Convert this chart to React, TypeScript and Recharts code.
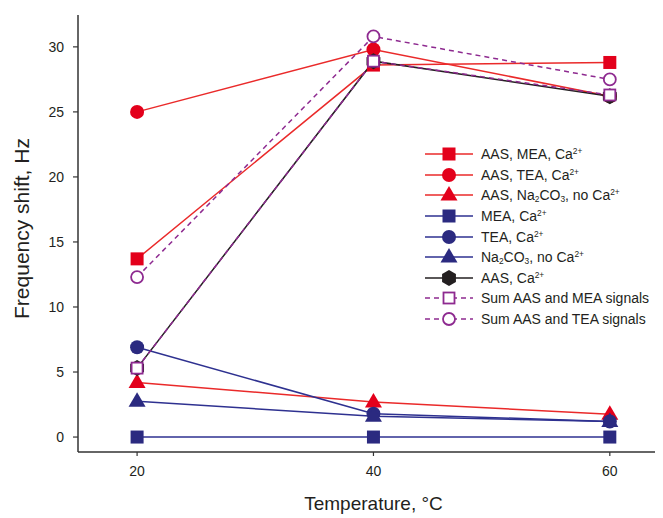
import React from "react";
import {
	LineChart,
	Line,
	XAxis,
	YAxis,
	Legend,
	Label,
} from "recharts";

const temperatures = [20, 40, 60];
const xTicks = [20, 40, 60];
const yTicks = [0, 5, 10, 15, 20, 25, 30];

// frequency shift, Hz
const aasMeaCa = [13.7, 28.6, 28.8];
const aasTeaCa = [25.0, 29.8, 26.2];
const aasNa2co3 = [4.2, 2.7, 1.75];
const meaCa = [0, 0, 0];
const teaCa = [6.9, 1.8, 1.2];
const na2co3 = [2.75, 1.6, 1.2];
const aasCa = [5.3, 28.9, 26.2];
const sumAasMea = [5.3, 28.9, 26.3];
const sumAasTea = [12.3, 30.8, 27.5];

const data = temperatures.map((t, i) => ({
	t,
	aasMeaCa: aasMeaCa[i],
	aasTeaCa: aasTeaCa[i],
	aasNa2co3: aasNa2co3[i],
	meaCa: meaCa[i],
	teaCa: teaCa[i],
	na2co3: na2co3[i],
	aasCa: aasCa[i],
	sumAasMea: sumAasMea[i],
	sumAasTea: sumAasTea[i],
}));

const RED = "#E3001B";
const RED_LINE = "#EA2A2A";
const NAVY = "#2B2A80";
const NAVY_LINE = "#2E3190";
const BLACK = "#231F20";
const PURPLE = "#8E2A90";
const FONT = "'Liberation Sans', Arial, sans-serif";

type Shape = "square" | "circle" | "triangle" | "hexagon" | "openSquare" | "openCircle";

const Ca = () => (
	<>
		Ca<sup style={{ fontSize: "0.6em", verticalAlign: "0.55em", lineHeight: 0 }}>2+</sup>
	</>
);
const Na2CO3 = () => (
	<>
		Na<sub style={{ fontSize: "0.6em", verticalAlign: "-0.2em", lineHeight: 0 }}>2</sub>CO
		<sub style={{ fontSize: "0.6em", verticalAlign: "-0.2em", lineHeight: 0 }}>3</sub>
	</>
);

const series: {
	key: string;
	label: React.ReactNode;
	marker: string;
	line: string;
	shape: Shape;
	dashed?: boolean;
}[] = [
	{ key: "aasMeaCa", label: <>AAS, MEA, <Ca /></>, marker: RED, line: RED_LINE, shape: "square" },
	{ key: "aasTeaCa", label: <>AAS, TEA, <Ca /></>, marker: RED, line: RED_LINE, shape: "circle" },
	{ key: "aasNa2co3", label: <>AAS, <Na2CO3 />, no <Ca /></>, marker: RED, line: RED_LINE, shape: "triangle" },
	{ key: "meaCa", label: <>MEA, <Ca /></>, marker: NAVY, line: NAVY_LINE, shape: "square" },
	{ key: "teaCa", label: <>TEA, <Ca /></>, marker: NAVY, line: NAVY_LINE, shape: "circle" },
	{ key: "na2co3", label: <><Na2CO3 />, no <Ca /></>, marker: NAVY, line: NAVY_LINE, shape: "triangle" },
	{ key: "aasCa", label: <>AAS, <Ca /></>, marker: BLACK, line: BLACK, shape: "hexagon" },
	{ key: "sumAasMea", label: <>Sum AAS and MEA signals</>, marker: PURPLE, line: PURPLE, shape: "openSquare", dashed: true },
	{ key: "sumAasTea", label: <>Sum AAS and TEA signals</>, marker: PURPLE, line: PURPLE, shape: "openCircle", dashed: true },
];

function Marker({ cx, cy, shape, color }: { cx: number; cy: number; shape: Shape; color: string }) {
	if (cx == null || cy == null) return null;
	switch (shape) {
		case "square":
			return <rect x={cx - 6.5} y={cy - 6.5} width={13} height={13} fill={color} />;
		case "circle":
			return <circle cx={cx} cy={cy} r={7} fill={color} />;
		case "triangle":
			return (
				<polygon
					points={`${cx},${cy - 9} ${cx - 8.5},${cy + 5.5} ${cx + 8.5},${cy + 5.5}`}
					fill={color}
				/>
			);
		case "hexagon": {
			const r = 8;
			const pts = [0, 1, 2, 3, 4, 5]
				.map((k) => {
					const a = (Math.PI / 3) * k - Math.PI / 2;
					return `${cx + r * Math.cos(a)},${cy + r * Math.sin(a)}`;
				})
				.join(" ");
			return <polygon points={pts} fill={color} />;
		}
		case "openSquare":
			return <rect x={cx - 5.5} y={cy - 5.5} width={11} height={11} fill="#fff" stroke={color} strokeWidth={1.8} />;
		case "openCircle":
			return <circle cx={cx} cy={cy} r={6} fill="#fff" stroke={color} strokeWidth={1.8} />;
	}
	return null;
}

function ChartLegend() {
	return (
		<div style={{ fontFamily: FONT, fontSize: 14, color: "#231F20" }}>
			{series.map((s) => (
				<div key={s.key} style={{ display: "flex", alignItems: "center", height: 20.6 }}>
					<svg width={48} height={20} style={{ flex: "none" }}>
						<line
							x1={0}
							x2={48}
							y1={10}
							y2={10}
							stroke={s.line}
							strokeWidth={1.5}
							strokeDasharray={s.dashed ? "5 4" : undefined}
						/>
						<Marker cx={24} cy={10} shape={s.shape} color={s.marker} />
					</svg>
					<span style={{ marginLeft: 8, whiteSpace: "nowrap" }}>{s.label}</span>
				</div>
			))}
		</div>
	);
}

export default function App() {
	return (
		<LineChart
			width={655}
			height={510}
			data={data}
			margin={{ top: 7, right: 0, bottom: 0, left: 0 }}
			style={{ fontFamily: FONT }}
		>
			<XAxis
				dataKey="t"
				type="number"
				domain={[15, 64.5]}
				ticks={xTicks}
				height={66}
				tickSize={4}
				tickMargin={10}
				tick={{ fontSize: 14, fill: "#231F20", fontFamily: FONT }}
				axisLine={{ stroke: "#333", strokeWidth: 1.5 }}
				tickLine={{ stroke: "#333", strokeWidth: 1.2 }}
				allowDataOverflow
			>
				<Label
					content={({ viewBox }: any) => (
						<text
							x={viewBox.x + viewBox.width / 2 + 3}
							y={viewBox.y + 51}
							textAnchor="middle"
							dominantBaseline="central"
							fontSize={19}
							fontFamily={FONT}
							fill="#231F20"
						>
							Temperature, °C
						</text>
					)}
				/>
			</XAxis>
			<XAxis
				xAxisId="top"
				orientation="top"
				dataKey="t"
				type="number"
				domain={[15, 64.5]}
				height={0}
				tick={false}
				tickLine={false}
				axisLine={{ stroke: "#333", strokeWidth: 1.5 }}
			/>
			<YAxis
				type="number"
				domain={[-1.15, 32.45]}
				ticks={yTicks}
				width={70}
				tickSize={5}
				tickMargin={9}
				tick={{ fontSize: 14, fill: "#231F20", fontFamily: FONT }}
				axisLine={{ stroke: "#333", strokeWidth: 1.5 }}
				tickLine={{ stroke: "#333", strokeWidth: 1.2 }}
				allowDataOverflow
			>
				<Label
					content={({ viewBox }: any) => {
						const x = viewBox.x + 13;
						const y = viewBox.y + viewBox.height / 2 - 5;
						return (
							<text
								x={x}
								y={y}
								transform={`rotate(-90 ${x} ${y})`}
								textAnchor="middle"
								dominantBaseline="central"
								fontSize={21}
								fontFamily={FONT}
								fill="#231F20"
							>
								Frequency shift, Hz
							</text>
						);
					}}
				/>
			</YAxis>
			<Legend
				layout="vertical"
				align="center"
				verticalAlign="middle"
				content={() => <ChartLegend />}
				wrapperStyle={{ left: 417, top: 136, width: 240 }}
			/>
			{series.map((s) => (
				<Line
					key={s.key}
					dataKey={s.key}
					type="linear"
					stroke={s.line}
					strokeWidth={1.5}
					strokeDasharray={s.dashed ? "5 4" : undefined}
					isAnimationActive={false}
					activeDot={false}
					dot={(p: any) => (
						<Marker key={`${s.key}-${p.index}`} cx={p.cx} cy={p.cy} shape={s.shape} color={s.marker} />
					)}
				/>
			))}
		</LineChart>
	);
}
